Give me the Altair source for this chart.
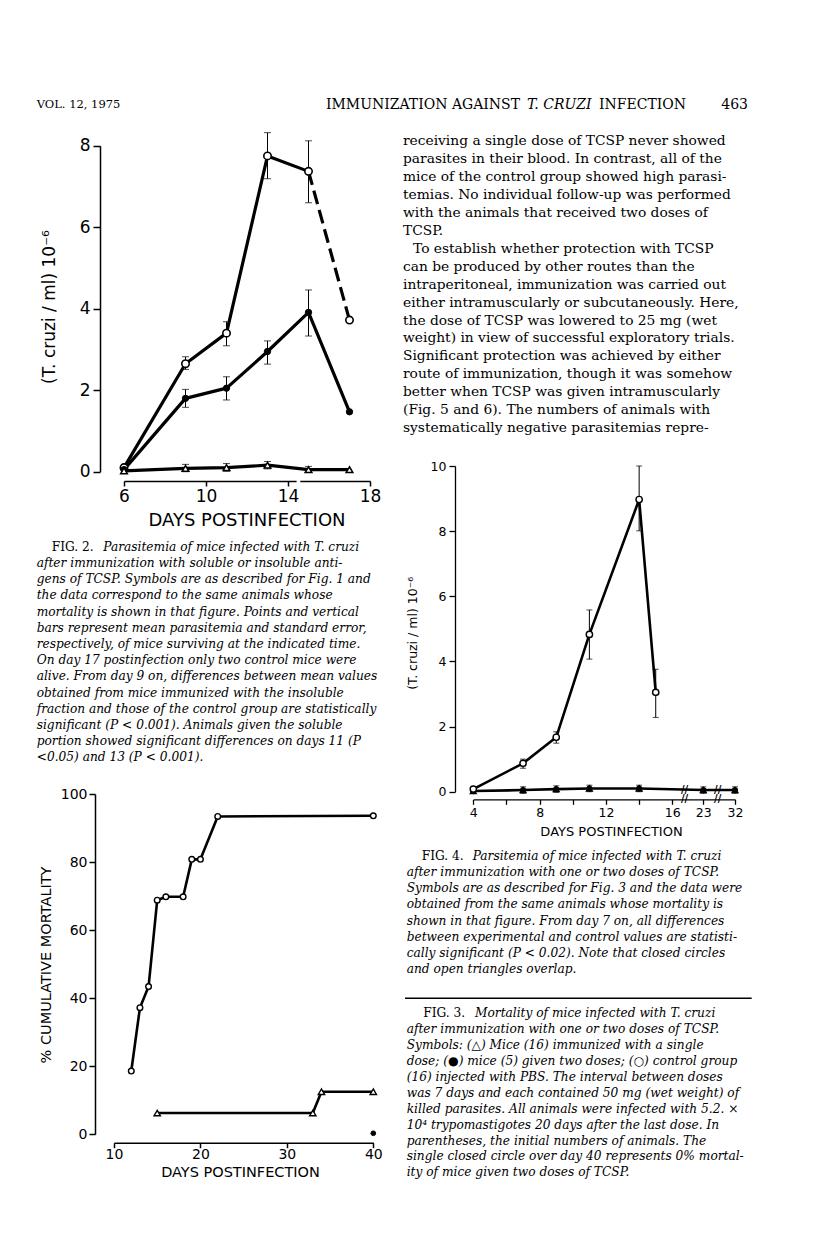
import altair as alt
import pandas as pd

W, H = 800, 1233
M = 8  # page margin
SERIF = "DejaVu Serif"
SANS = "DejaVu Sans"

# ---------------- Fig. 2 data (parasitemia, soluble/insoluble antigens) ----------------
f2_days = [6, 9, 11, 13, 15, 17]
f2_open = [0.10, 2.65, 3.40, 7.75, 7.37, 3.72]
f2_open_lo = [None, 2.51, 3.09, 7.19, 6.60, None]
f2_open_hi = [None, 2.82, 3.68, 8.32, 8.12, None]
f2_closed = [0.05, 1.80, 2.05, 2.95, 3.91, 1.47]
f2_closed_lo = [None, 1.58, 1.76, 2.64, 3.33, None]
f2_closed_hi = [None, 2.02, 2.33, 3.21, 4.46, None]
f2_tri = [0.02, 0.08, 0.10, 0.16, 0.05, 0.05]
f2_tri_lo = [None, 0.00, 0.01, 0.07, -0.02, None]
f2_tri_hi = [None, 0.18, 0.20, 0.25, 0.13, None]
f2_xticks = [6, 10, 14, 18]
f2_yticks = [0, 2, 4, 6, 8]

# ---------------- Fig. 3 data (cumulative mortality) ----------------
f3_ctrl_days = [12, 13, 14, 15, 16, 18, 19, 20, 22, 40]
f3_ctrl = [18.6, 37.2, 43.4, 68.8, 69.8, 69.8, 80.8, 80.8, 93.4, 93.6]
f3_single_days = [15, 33, 34, 40]
f3_single = [6.25, 6.25, 12.5, 12.5]
f3_two_days = [40]
f3_two = [0.3]
f3_xticks = [10, 20, 30, 40]
f3_yticks = [0, 20, 40, 60, 80, 100]

# ---------------- Fig. 4 data (parasitemia, one or two doses) ----------------
f4_ctrl_days = [4, 7, 9, 11, 14, 15]
f4_ctrl = [0.08, 0.87, 1.67, 4.83, 8.97, 3.05]
f4_ctrl_lo = [None, 0.72, 1.49, 4.07, 8.01, 2.28]
f4_ctrl_hi = [None, 1.00, 1.84, 5.58, 10.0, 3.76]
f4_imm_days = [4, 7, 9, 11, 14, 23, 32]
f4_imm = [0.02, 0.05, 0.08, 0.10, 0.10, 0.05, 0.05]
f4_imm_lo = [None, -0.05, -0.02, 0.00, 0.00, -0.05, -0.05]
f4_imm_hi = [None, 0.15, 0.18, 0.20, 0.20, 0.15, 0.15]
f4_yticks = [0, 2, 4, 6, 8, 10]
f4_xticks_days = [4, 6, 8, 10, 12, 14, 16, 23, 32]
# broken axis: days after 16 are drawn at compressed positions
f4_break_pos = {23: 17.87, 32: 19.78}
f4_breaks = [16.74, 18.74]


def f4pos(d):
    return d if d <= 16 else f4_break_pos[d]


# ---------------- text ----------------
header_left = "VOL. 12, 1975"
header_mid1 = "IMMUNIZATION AGAINST"
header_mid2 = "T. CRUZI"
header_mid3 = "INFECTION"
header_page = "463"

body_p1 = [
    "receiving a single dose of TCSP never showed",
    "parasites in their blood. In contrast, all of the",
    "mice of the control group showed high parasi-",
    "temias. No individual follow-up was performed",
    "with the animals that received two doses of",
    "TCSP.",
]
body_p2_first = "To establish whether protection with TCSP"
body_p2 = [
    "can be produced by other routes than the",
    "intraperitoneal, immunization was carried out",
    "either intramuscularly or subcutaneously. Here,",
    "the dose of TCSP was lowered to 25 mg (wet",
    "weight) in view of successful exploratory trials.",
    "Significant protection was achieved by either",
    "route of immunization, though it was somehow",
    "better when TCSP was given intramuscularly",
    "(Fig. 5 and 6). The numbers of animals with",
    "systematically negative parasitemias repre-",
]

cap2_head = "FIG. 2."
cap2_first = "Parasitemia of mice infected with T. cruzi"
cap2 = [
    "after immunization with soluble or insoluble anti-",
    "gens of TCSP. Symbols are as described for Fig. 1 and",
    "the data correspond to the same animals whose",
    "mortality is shown in that figure. Points and vertical",
    "bars represent mean parasitemia and standard error,",
    "respectively, of mice surviving at the indicated time.",
    "On day 17 postinfection only two control mice were",
    "alive. From day 9 on, differences between mean values",
    "obtained from mice immunized with the insoluble",
    "fraction and those of the control group are statistically",
    "significant (P < 0.001). Animals given the soluble",
    "portion showed significant differences on days 11 (P",
    "<0.05) and 13 (P < 0.001).",
]

cap4_head = "FIG. 4."
cap4_first = "Parsitemia of mice infected with T. cruzi"
cap4 = [
    "after immunization with one or two doses of TCSP.",
    "Symbols are as described for Fig. 3 and the data were",
    "obtained from the same animals whose mortality is",
    "shown in that figure. From day 7 on, all differences",
    "between experimental and control values are statisti-",
    "cally significant (P < 0.02). Note that closed circles",
    "and open triangles overlap.",
]

cap3_head = "FIG. 3."
cap3_first = "Mortality of mice infected with T. cruzi"
cap3 = [
    "after immunization with one or two doses of TCSP.",
    "Symbols: (\u25b3) Mice (16) immunized with a single",
    "dose; (\u25cf) mice (5) given two doses; (\u25cb) control group",
    "(16) injected with PBS. The interval between doses",
    "was 7 days and each contained 50 mg (wet weight) of",
    "killed parasites. All animals were infected with 5.2. \u00d7",
    "10\u2074 trypomastigotes 20 days after the last dose. In",
    "parentheses, the initial numbers of animals. The",
    "single closed circle over day 40 represents 0% mortal-",
    "ity of mice given two doses of TCSP.",
]

ytitle_para = "(T. cruzi / ml)  10\u207b\u2076"
xtitle_days = "DAYS POSTINFECTION"
ytitle_mort = "% CUMULATIVE MORTALITY"


# ---------------- helpers ----------------
def frame(days, vals, lo=None, hi=None, xpos=None):
    d = pd.DataFrame({"day": days, "v": vals})
    d["x"] = xpos if xpos is not None else days
    if lo is not None:
        d["lo"] = lo
        d["hi"] = hi
    return d


def lin(domain, rng):
    return alt.Scale(domain=domain, range=[r - M for r in rng], nice=False, zero=False)


def axis(values, orient, offset, size, tick=6, pad=3, width=1.5, fmt="d", expr=None):
    kw = dict(values=values, orient=orient, offset=offset, title=None, grid=False,
              domainColor="black", domainWidth=width, tickColor="black", tickWidth=width,
              tickSize=tick, labelColor="black", labelFont=SANS, labelFontSize=size,
              labelPadding=pad, labelFlush=False, labelOverlap=False, labelBound=False)
    if expr is not None:
        kw["labelExpr"] = expr
    else:
        kw["format"] = fmt
    return alt.Axis(**kw)


def xy(chart, xs, ys, yf="v", xaxis=None, yaxis=None):
    return chart.encode(
        x=alt.X("x:Q", scale=xs, axis=xaxis),
        y=alt.Y(f"{yf}:Q", scale=ys, axis=yaxis),
    )


def line(df, xs, ys, w, dash=None, xaxis=None, yaxis=None):
    kw = dict(color="black", strokeWidth=w, strokeJoin="round")
    if dash:
        kw["strokeDash"] = dash
    ch = alt.Chart(df).mark_line(**kw)
    return xy(ch, xs, ys, xaxis=xaxis, yaxis=yaxis).encode(order="x:Q")


def errbars(df, xs, ys, cap, w=1.0):
    d = df.dropna(subset=["lo"])
    r = alt.Chart(d).mark_rule(color="black", strokeWidth=w).encode(
        x=alt.X("x:Q", scale=xs, axis=None),
        y=alt.Y("lo:Q", scale=ys, axis=None),
        y2="hi:Q",
    )
    c1 = xy(alt.Chart(d).mark_tick(orient="horizontal", size=cap, thickness=w, color="black"), xs, ys, yf="lo")
    c2 = xy(alt.Chart(d).mark_tick(orient="horizontal", size=cap, thickness=w, color="black"), xs, ys, yf="hi")
    return [r, c1, c2]


def pts(df, xs, ys, shape, fill, size, sw=1.4):
    ch = alt.Chart(df).mark_point(shape=shape, filled=True, fill=fill, stroke="black",
                                  strokeWidth=sw, size=size, opacity=1, fillOpacity=1)
    return xy(ch, xs, ys)


def label(t, x, y, size, font=SANS, align="center", angle=0, style="normal", weight="normal"):
    df = pd.DataFrame({"t": [t]})
    kw = dict(align=align, baseline="middle", font=font, fontSize=size,
              fontStyle=style, fontWeight=weight, color="black")
    if angle:
        kw["angle"] = angle
    return alt.Chart(df).mark_text(**kw).encode(
        x=alt.value(x - M), y=alt.value(y - M), text="t:N")


def tlines(lines, x, y0, step, size, style="normal", font=SERIF):
    n = len(lines)
    df = pd.DataFrame({"i": list(range(n)), "t": lines})
    y = alt.Y("i:Q", scale=alt.Scale(domain=[0, n - 1],
                                     range=[y0 - M, y0 - M + (n - 1) * step],
                                     nice=False, zero=False), axis=None)
    return alt.Chart(df).mark_text(align="left", baseline="middle", font=font, fontSize=size,
                                   fontStyle=style, color="black").encode(
        x=alt.value(x - M), y=y, text="t:N")


layers = []

# ---------------- Fig. 2 ----------------
f2x = lin([6, 18], [124, 370])
f2y = lin([0, 8], [471.7, 145.7])
d2o = frame(f2_days, f2_open, f2_open_lo, f2_open_hi)
d2c = frame(f2_days, f2_closed, f2_closed_lo, f2_closed_hi)
d2t = frame(f2_days, f2_tri, f2_tri_lo, f2_tri_hi)

layers.append(line(d2o[d2o.day <= 15], f2x, f2y, 3.2,
                   xaxis=axis(f2_xticks, "bottom", 481 - M - H, 17, tick=5, pad=2),
                   yaxis=axis(f2_yticks, "left", -(100 - M), 17, tick=7, pad=3)))
layers.append(line(d2o[d2o.day >= 15], f2x, f2y, 3.2, dash=[14, 6]))
layers.append(line(d2c, f2x, f2y, 3.2))
layers.append(line(d2t, f2x, f2y, 3.2))
for d in (d2o, d2c, d2t):
    layers += errbars(d, f2x, f2y, 7)
layers.append(pts(d2o, f2x, f2y, "circle", "white", 55, 1.6))
layers.append(pts(d2c, f2x, f2y, "circle", "black", 40, 1))
layers.append(pts(d2t, f2x, f2y, "triangle-up", "white", 45, 1.5))
# small gap in the x axis line
gap2 = pd.DataFrame({"x": [14.42], "x2": [14.6], "v": [-0.23]})
layers.append(alt.Chart(gap2).mark_rule(color="white", strokeWidth=4).encode(
    x=alt.X("x:Q", scale=f2x, axis=None), x2="x2:Q", y=alt.Y("v:Q", scale=f2y, axis=None)))
layers.append(label(xtitle_days, 247, 521, 18))
layers.append(label(ytitle_para, 50, 307, 17, angle=270))

# ---------------- Fig. 3 ----------------
f3x = lin([10, 40], [114, 373.3])
f3y = lin([0, 100], [1134.3, 794])
d3c = frame(f3_ctrl_days, f3_ctrl)
d3s = frame(f3_single_days, f3_single)
d3t = frame(f3_two_days, f3_two)
layers.append(line(d3c, f3x, f3y, 2.6,
                   xaxis=axis(f3_xticks, "bottom", 1142.7 - M - H, 14, tick=5, pad=0),
                   yaxis=axis(f3_yticks, "left", -(95 - M), 14, tick=6, pad=2)))
layers.append(line(d3s, f3x, f3y, 2.6))
layers.append(pts(d3c, f3x, f3y, "circle", "white", 32, 1.4))
layers.append(pts(d3s, f3x, f3y, "triangle-up", "white", 40, 1.4))
layers.append(pts(d3t, f3x, f3y, "circle", "black", 22, 1))
layers.append(label(xtitle_days, 240.5, 1173.3, 14.5))
layers.append(label(ytitle_mort, 46.7, 965, 14.5, angle=270))

# ---------------- Fig. 4 ----------------
f4x = lin([4, 19.78], [473.3, 735])
f4y = lin([0, 10], [791.7, 466])
d4c = frame(f4_ctrl_days, f4_ctrl, f4_ctrl_lo, f4_ctrl_hi)
d4i = frame(f4_imm_days, f4_imm, f4_imm_lo, f4_imm_hi, xpos=[f4pos(d) for d in f4_imm_days])
f4_xtick_pos = [f4pos(d) for d in f4_xticks_days]
f4_expr = ("datum.value > 19 ? '32' : datum.value > 17 ? '23' : "
           "(datum.value % 4 == 0 ? format(datum.value, 'd') : '')")
layers.append(line(d4c, f4x, f4y, 2.6,
                   xaxis=axis(f4_xtick_pos, "bottom", 799.3 - M - H, 12.5, tick=5, pad=2, width=1.3, expr=f4_expr),
                   yaxis=axis(f4_yticks, "left", -(455 - M), 12.5, tick=6, pad=3, width=1.3)))
layers.append(line(d4i, f4x, f4y, 2.6))
for d in (d4c, d4i):
    layers += errbars(d, f4x, f4y, 6)
layers.append(pts(d4i, f4x, f4y, "triangle-up", "black", 38, 1.2))
layers.append(pts(d4i, f4x, f4y, "circle", "black", 28, 1))
layers.append(pts(d4c, f4x, f4y, "circle", "white", 40, 1.4))
brk = pd.DataFrame({"x": f4_breaks * 2, "v": [-0.23, -0.23, 0.05, 0.05], "t": ["//"] * 4})
layers.append(alt.Chart(brk).mark_text(font=SANS, fontSize=10, fontWeight="bold", color="black",
                                       baseline="middle", align="center").encode(
    x=alt.X("x:Q", scale=f4x, axis=None), y=alt.Y("v:Q", scale=f4y, axis=None), text="t:N"))
layers.append(label(xtitle_days, 611.5, 831.7, 13))
layers.append(label(ytitle_para, 413.3, 633.3, 12.5, angle=270))

# ---------------- header ----------------
layers.append(label(header_left, 36.7, 105, 11.5, font=SERIF, align="left"))
layers.append(label(header_mid1, 326, 105, 14, font=SERIF, align="left"))
layers.append(label(header_mid2, 527, 105, 14, font=SERIF, align="left", style="italic"))
layers.append(label(header_mid3, 686, 105, 14, font=SERIF, align="right"))
layers.append(label(header_page, 748, 105, 14, font=SERIF, align="right"))

# ---------------- body text (right column) ----------------
STEP = 17.95
BODY = 13.8
layers.append(tlines(body_p1, 403, 141, STEP, BODY))
layers.append(label(body_p2_first, 413, 141 + 6 * STEP, BODY, font=SERIF, align="left"))
layers.append(tlines(body_p2, 403, 141 + 7 * STEP, STEP, BODY))

# ---------------- captions ----------------
CAP = 12.2
layers.append(label(cap2_head, 51.7, 546.7, CAP, font=SERIF, align="left"))
layers.append(label(cap2_first, 103.3, 546.7, CAP, font=SERIF, align="left", style="italic"))
layers.append(tlines(cap2, 36.7, 546.7 + 16.2, 16.2, CAP, style="italic"))

layers.append(label(cap4_head, 421.7, 855.5, CAP, font=SERIF, align="left"))
layers.append(label(cap4_first, 472.7, 855.5, CAP, font=SERIF, align="left", style="italic"))
layers.append(tlines(cap4, 406.7, 855.5 + 16.26, 16.26, CAP, style="italic"))

sep = pd.DataFrame({"t": [""]})
layers.append(alt.Chart(sep).mark_rule(color="black", strokeWidth=1.5).encode(
    x=alt.value(405 - M), x2=alt.value(751.7 - M), y=alt.value(998.3 - M)))

layers.append(label(cap3_head, 423.3, 1013.3, CAP, font=SERIF, align="left"))
layers.append(label(cap3_first, 475, 1013.3, CAP, font=SERIF, align="left", style="italic"))
layers.append(tlines(cap3, 406.7, 1013.3 + 15.9, 15.9, CAP, style="italic"))

chart = (
    alt.layer(*layers)
    .resolve_scale(x="independent", y="independent")
    .resolve_axis(x="independent", y="independent")
    .properties(width=W, height=H, autosize=alt.AutoSizeParams(type="none"), padding=0,
                background="white")
    .configure_view(stroke=None)
)

chart.save("out.html", embed_options={"renderer": "svg", "actions": False})
